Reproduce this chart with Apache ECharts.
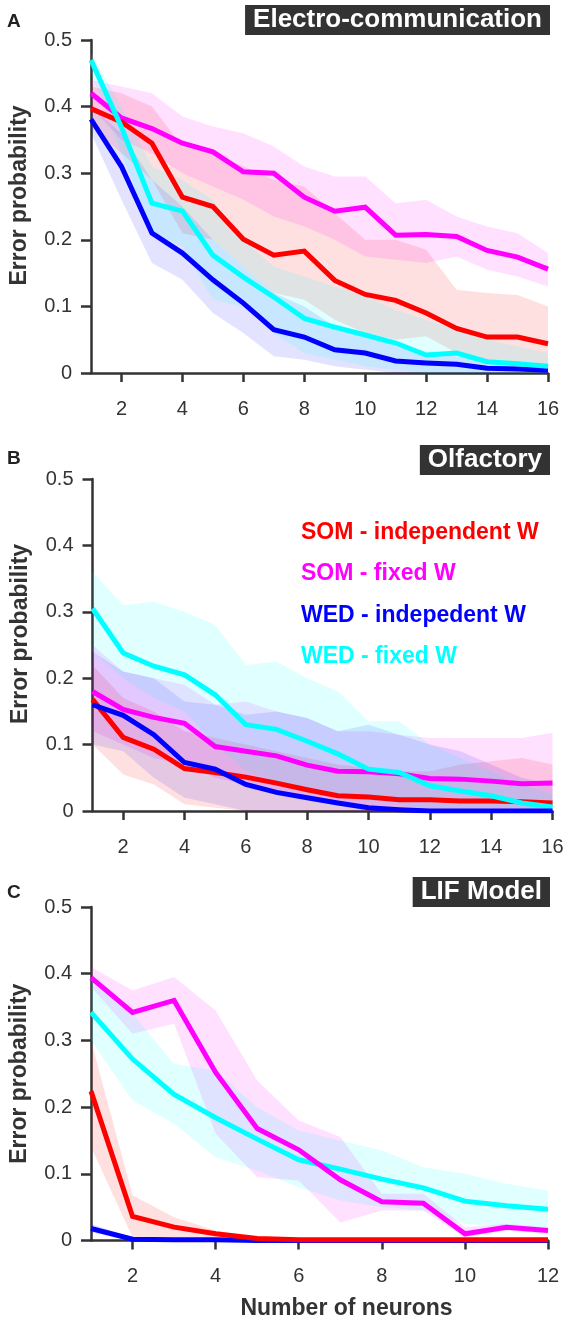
<!DOCTYPE html>
<html><head><meta charset="utf-8">
<script src="https://cdn.jsdelivr.net/npm/echarts@6/dist/echarts.min.js"></script>
<style>html,body{margin:0;padding:0;background:#fff}#c{width:567px;height:1325px}</style>
</head><body><div id="c"></div>
<script>
// ---------- data ----------
const seriesNames = ['SOM - independent W', 'SOM - fixed W', 'WED - indepedent W', 'WED - fixed W'];
const panelTitles = ['Electro-communication', 'Olfactory', 'LIF Model'];
const panelLetters = ['A', 'B', 'C'];
const nAB = [1,2,3,4,5,6,7,8,9,10,11,12,13,14,15,16];
const nC = [1,2,3,4,5,6,7,8,9,10,11,12];
const xTicksAB = [2,4,6,8,10,12,14,16];
const xTicksC = [2,4,6,8,10,12];

// Panel A : Electro-communication
const aSomInd   = [0.397,0.377,0.345,0.264,0.25,0.201,0.177,0.183,0.139,0.118,0.109,0.09,0.067,0.054,0.054,0.044];
const aSomIndHi = [0.43,0.42,0.40,0.34,0.33,0.31,0.29,0.28,0.24,0.20,0.20,0.185,0.125,0.12,0.117,0.10];
const aSomIndLo = [0.37,0.33,0.29,0.21,0.20,0.16,0.12,0.11,0.08,0.06,0.05,0.055,0.03,0.02,0.012,0.006];
const aSomFix   = [0.42,0.383,0.367,0.345,0.332,0.302,0.30,0.264,0.243,0.249,0.207,0.208,0.205,0.184,0.174,0.156];
const aSomFixHi = [0.44,0.43,0.42,0.385,0.37,0.36,0.34,0.31,0.295,0.295,0.255,0.26,0.235,0.22,0.21,0.18];
const aSomFixLo = [0.40,0.35,0.33,0.30,0.28,0.26,0.235,0.22,0.20,0.175,0.17,0.165,0.175,0.155,0.145,0.13];
const aWedInd   = [0.381,0.31,0.21,0.18,0.14,0.105,0.065,0.054,0.035,0.03,0.018,0.015,0.013,0.007,0.006,0.004];
const aWedIndHi = [0.40,0.36,0.29,0.25,0.20,0.16,0.12,0.10,0.07,0.06,0.04,0.03,0.025,0.02,0.015,0.01];
const aWedIndLo = [0.36,0.26,0.165,0.14,0.09,0.06,0.025,0.02,0.01,0.005,0,0,0,0,0,0];
const aWedFix   = [0.47,0.369,0.255,0.243,0.177,0.144,0.114,0.082,0.069,0.057,0.045,0.027,0.03,0.017,0.014,0.01];
const aWedFixHi = [0.48,0.40,0.31,0.29,0.26,0.20,0.16,0.145,0.13,0.115,0.095,0.08,0.065,0.05,0.04,0.03];
const aWedFixLo = [0.45,0.33,0.21,0.19,0.11,0.10,0.06,0.03,0.02,0.01,0.005,0,0,0,0,0];

// Panel B : Olfactory
const bSomInd   = [0.168,0.111,0.093,0.064,0.058,0.051,0.042,0.032,0.023,0.021,0.017,0.017,0.015,0.015,0.014,0.012];
const bSomIndHi = [0.22,0.17,0.15,0.12,0.11,0.10,0.09,0.08,0.07,0.065,0.06,0.06,0.07,0.075,0.08,0.07];
const bSomIndLo = [0.10,0.055,0.04,0.01,0.005,0,0,0,0,0,0,0,0,0,0,0];
const bSomFix   = [0.18,0.153,0.141,0.132,0.097,0.09,0.083,0.069,0.06,0.059,0.056,0.049,0.048,0.045,0.041,0.042];
const bSomFixHi = [0.25,0.21,0.20,0.19,0.16,0.165,0.15,0.14,0.12,0.12,0.115,0.11,0.11,0.11,0.11,0.118];
const bSomFixLo = [0.12,0.10,0.08,0.07,0.05,0.04,0.03,0.02,0.01,0,0,0,0,0,0,0];
const bWedInd   = [0.16,0.144,0.115,0.073,0.063,0.04,0.028,0.02,0.012,0.005,0.002,0,0,0,0,0];
const bWedIndHi = [0.24,0.21,0.20,0.165,0.16,0.145,0.15,0.14,0.12,0.13,0.115,0.10,0.09,0.07,0.05,0.04];
const bWedIndLo = [0.10,0.09,0.05,0.02,0.01,0,0,0,0,0,0,0,0,0,0,0];
const bWedFix   = [0.305,0.238,0.218,0.205,0.175,0.13,0.123,0.105,0.086,0.063,0.058,0.038,0.03,0.023,0.012,0.006];
const bWedFixHi = [0.36,0.31,0.315,0.30,0.28,0.22,0.225,0.20,0.18,0.135,0.135,0.10,0.08,0.06,0.04,0.025];
const bWedFixLo = [0.24,0.20,0.17,0.15,0.10,0.06,0.045,0.03,0.02,0.015,0.01,0,0,0,0,0];

// Panel C : LIF Model
const cSomInd   = [0.224,0.036,0.02,0.01,0.003,0.001,0.001,0.001,0.001,0.001,0.001,0.001];
const cSomIndHi = [0.30,0.068,0.035,0.015,0.005,0.002,0.002,0.002,0.002,0.002,0.002,0.002];
const cSomIndLo = [0.14,0.005,0,0,0,0,0,0,0,0,0,0];
const cSomFix   = [0.394,0.342,0.36,0.252,0.168,0.136,0.091,0.058,0.056,0.01,0.02,0.015];
const cSomFixHi = [0.41,0.375,0.395,0.345,0.24,0.18,0.155,0.07,0.07,0.02,0.025,0.02];
const cSomFixLo = [0.38,0.31,0.325,0.16,0.095,0.09,0.027,0.045,0.045,0.005,0.015,0.01];
const cWedInd   = [0.018,0.002,0.001,0.001,0,0,0,0,0,0,0,0];
const cWedIndHi = [0.025,0.004,0.002,0.001,0,0,0,0,0,0,0,0];
const cWedIndLo = [0.012,0,0,0,0,0,0,0,0,0,0,0];
const cWedFix   = [0.342,0.272,0.219,0.184,0.152,0.121,0.107,0.092,0.079,0.059,0.052,0.047];
const cWedFixHi = [0.39,0.34,0.265,0.255,0.20,0.165,0.15,0.135,0.11,0.10,0.085,0.075];
const cWedFixLo = [0.30,0.21,0.175,0.125,0.105,0.08,0.06,0.05,0.045,0.025,0.02,0.02];

// ---------- styling ----------
const lineColors = ['#ff0000', '#ff00ff', '#0000ff', '#00ffff'];
const bandColors = ['rgba(255,0,0,0.12)', 'rgba(255,0,255,0.12)', 'rgba(0,0,255,0.11)', 'rgba(0,255,255,0.12)'];
const FONT = 'Liberation Sans, Arial, sans-serif';
const AX = '#333';

const panels = [
  {xs: nAB, ticks: xTicksAB, max: 16,
   mean: [aSomInd, aSomFix, aWedInd, aWedFix], hi: [aSomIndHi, aSomFixHi, aWedIndHi, aWedFixHi], lo: [aSomIndLo, aSomFixLo, aWedIndLo, aWedFixLo],
   order: [1, 0, 2, 3], grid: {left: 88, right: 19, top: 40, bottom: 952}, titleTop: 5, letterTop: 12, namePad: [0,0,0,22]},
  {xs: nAB, ticks: xTicksAB, max: 16,
   mean: [bSomInd, bSomFix, bWedInd, bWedFix], hi: [bSomIndHi, bSomFixHi, bWedIndHi, bWedFixHi], lo: [bSomIndLo, bSomFixLo, bWedIndLo, bWedFixLo],
   order: [0, 1, 3, 2], grid: {left: 92.5, right: 14.5, top: 479, bottom: 514}, titleTop: 445, letterTop: 449, namePad: [0,0,0,22]},
  {xs: nC, ticks: xTicksC, max: 12,
   mean: [cSomInd, cSomFix, cWedInd, cWedFix], hi: [cSomIndHi, cSomFixHi, cWedIndHi, cWedFixHi], lo: [cSomIndLo, cSomFixLo, cWedIndLo, cWedFixLo],
   order: [2, 3, 1, 0], grid: {left: 90, right: 19, top: 907, bottom: 84.5}, titleTop: 877, letterTop: 883, namePad: [0,0,0,0]}
];

function bandRenderer(color) {
  return function (params, api) {
    if (params.dataIndex !== 0) return null;
    const n = params.dataInsideLength !== undefined ? api.value(0, 0) : 0;
    const data = params.context.bandData;
    return null;
  };
}

const grids = [], xAxes = [], yAxes = [], series = [], titles = [];
panels.forEach((p, gi) => {
  grids.push(Object.assign({containLabel: false}, p.grid));
  xAxes.push({
    gridIndex: gi, type: 'value', min: 1, max: p.max,
    axisLine: {show: true, onZero: false, lineStyle: {color: AX, width: 2.5}},
    axisTick: {show: true, customValues: p.ticks, length: 9, lineStyle: {color: AX, width: 2.5}},
    axisLabel: {customValues: p.ticks, fontSize: 20, color: AX, margin: 26, fontFamily: FONT},
    splitLine: {show: false},
    name: gi === 2 ? 'Number of neurons' : '', nameLocation: 'middle', nameGap: 57,
    nameTextStyle: {fontSize: 23, fontWeight: 'bold', color: AX, fontFamily: FONT, padding: [0,0,0,54]}
  });
  yAxes.push({
    gridIndex: gi, type: 'value', min: 0, max: 0.5, interval: 0.1,
    axisLine: {show: true, lineStyle: {color: AX, width: 2.5}},
    axisTick: {show: true, length: 10, lineStyle: {color: AX, width: 2.5}},
    axisLabel: {fontSize: 20, color: AX, margin: 19, fontFamily: FONT},
    splitLine: {show: false},
    name: 'Error probability', nameLocation: 'middle', nameGap: 60,
    nameTextStyle: {fontSize: 23, fontWeight: 'bold', color: AX, fontFamily: FONT, padding: p.namePad}
  });
  // shaded bands (polygon between lower and upper bound, through the axes' scales)
  for (let k = 0; k < 4; k++) {
    const bandData = p.xs.map((x, i) => [x, p.lo[k][i], p.hi[k][i]]);
    series.push({
      name: 'band' + gi + k, type: 'custom', xAxisIndex: gi, yAxisIndex: gi,
      data: bandData, encode: {x: 0, y: [1, 2]}, silent: true, z: 1, clip: false,
      renderItem: function (params, api) {
        if (params.dataIndex !== 0) return null;
        const upper = bandData.map(d => api.coord([d[0], d[2]]));
        const lower = bandData.map(d => api.coord([d[0], d[1]])).reverse();
        return {
          type: 'polygon',
          shape: {points: upper.concat(lower)},
          style: {fill: bandColors[k], stroke: null}
        };
      }
    });
  }
  // mean lines
  p.order.forEach((k, j) => {
    series.push({
      name: seriesNames[k], type: 'line', xAxisIndex: gi, yAxisIndex: gi,
      data: p.xs.map((x, i) => [x, p.mean[k][i]]), symbol: 'none', silent: true,
      lineStyle: {color: lineColors[k], width: 5, join: 'miter'}, itemStyle: {color: lineColors[k]},
      z: 3 + j
    });
  });
  titles.push({
    text: panelTitles[gi], right: 17, top: p.titleTop, backgroundColor: '#333', padding: [1, 8, 1, 8],
    textStyle: {color: '#fff', fontSize: 26, fontWeight: 'bold', fontFamily: FONT, lineHeight: 28}
  });
  titles.push({
    text: panelLetters[gi], left: 7, top: p.letterTop, padding: 0,
    textStyle: {color: '#222', fontSize: 19, fontWeight: 'bold', fontFamily: FONT}
  });
});

const chart = echarts.init(document.getElementById('c'), null, {renderer: 'canvas'});
chart.setOption({
  backgroundColor: '#ffffff',
  animation: false,
  title: titles,
  grid: grids,
  xAxis: xAxes,
  yAxis: yAxes,
  legend: {
    show: true, orient: 'vertical', left: 291, top: 516, itemGap: 18.5,
    itemWidth: 0, itemHeight: 0, icon: 'none', selectedMode: false,
    data: seriesNames.map((n, k) => ({name: n, textStyle: {color: lineColors[k]}})),
    textStyle: {fontSize: 23, fontWeight: 'bold', fontFamily: FONT, lineHeight: 23}
  },
  series: series
});
</script>
</body></html>
